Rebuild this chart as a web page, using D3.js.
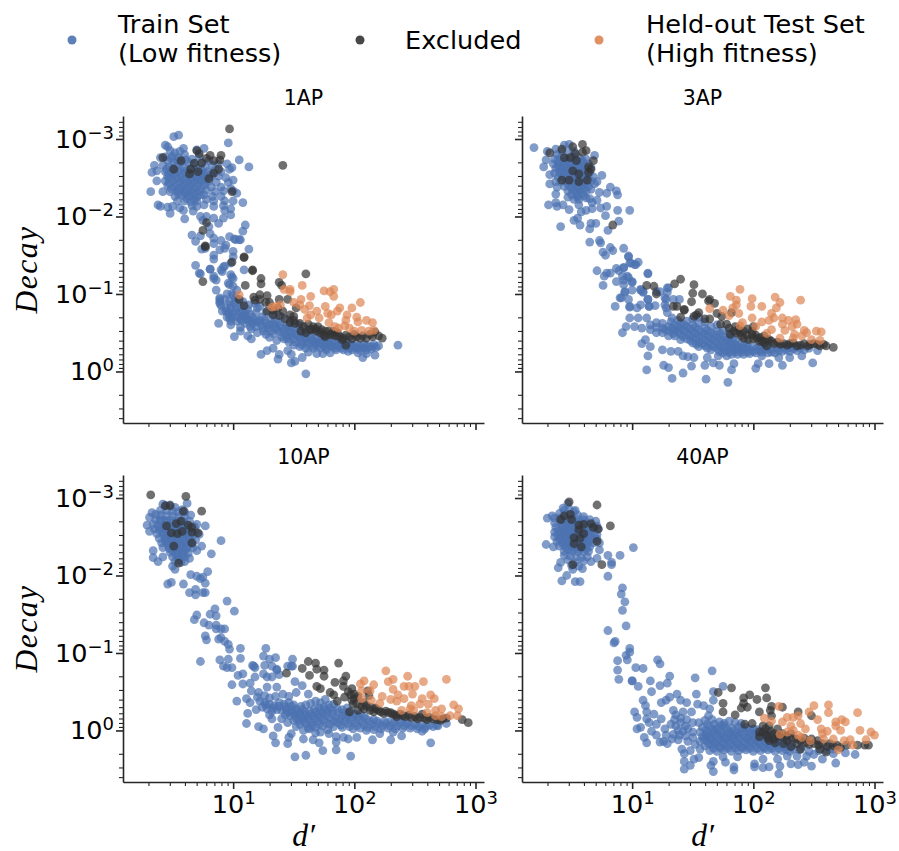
<!DOCTYPE html>
<meta charset="utf-8">

<script src="https://d3js.org/d3.v7.min.js"></script>

<style>
  body { margin: 0; background: #fff; }
  text { font-family: "DejaVu Sans", sans-serif; fill: #000; }
  .domain { stroke: #262626; stroke-width: 1.6px; }
  .major line { stroke: #262626; stroke-width: 1.6px; }
  .minor line { stroke: #262626; stroke-width: 1.1px; }
  .math { font-family: "Liberation Serif", serif; font-style: italic; }
</style>

<svg></svg>

<script>

// DATA: every point is [log10(d'), log10(decay)]

var train1AP = [[.51,-3.03],[.55,-3.05],[.44,-2.92],[.46,-2.9],[.96,-2.95],[.76,-2.88],[.59,-2.88],[.7,-2.86],[1.05,-2.73],[1.13,-2.64],[.99,-2.63],[.95,-2.68],[.97,-2.61],[.33,-2.57],[.37,-2.59],[.35,-2.66],[.4,-2.76],[.44,-2.77],[.37,-2.46],[.32,-2.32],[.42,-2.32],[.38,-2.15],[.4,-2.13],[.46,-2.12],[.5,-2.13],[.48,-2.04],[.56,-2.11],[.59,-2.08],[.6,-1.97],[.67,-2.07],
[.48,-2.85],[.52,-2.82],[.56,-2.84],[.5,-2.78],[.55,-2.76],[.6,-2.8],[.66,-2.74],[.72,-2.78],[.46,-2.72],[.51,-2.7],[.57,-2.7],[.63,-2.7],[.68,-2.68],[.74,-2.7],[.8,-2.72],[.42,-2.66],[.47,-2.64],[.53,-2.65],[.59,-2.63],[.65,-2.62],[.71,-2.62],[.77,-2.64],[.83,-2.66],[.88,-2.68],[.44,-2.58],[.49,-2.58],[.55,-2.58],[.61,-2.56],[.67,-2.56],[.73,-2.56],[.79,-2.58],[.85,-2.6],[.9,-2.58],[.46,-2.52],[.52,-2.52],[.58,-2.5],[.64,-2.5],[.7,-2.5],[.76,-2.52],[.82,-2.52],[.88,-2.52],[.94,-2.5],[.44,-2.46],[.5,-2.46],[.56,-2.44],[.62,-2.44],[.68,-2.44],[.74,-2.46],[.8,-2.46],[.86,-2.44],[.96,-2.44],[1,-2.47],[.46,-2.4],[.52,-2.38],[.58,-2.38],[.64,-2.38],[.7,-2.38],[.76,-2.4],[.82,-2.38],[.9,-2.38],[.98,-2.36],[.48,-2.32],[.54,-2.32],[.6,-2.32],[.66,-2.32],[.72,-2.32],[.78,-2.34],[.85,-2.32],[.92,-2.33],[1,-2.33],[.52,-2.26],[.58,-2.27],[.64,-2.26],[.7,-2.25],[.76,-2.28],[.83,-2.26],[.9,-2.26],[1.03,-2.3],[.54,-2.2],[.6,-2.2],[.65,-2.19],[.7,-2.2],[.78,-2.22],[.84,-2.2],[.93,-2.2],[1,-2.2],[1.08,-2.18],[.66,-2.14],[.7,-2.13],[.76,-2.15],[.84,-2.13],[.92,-2.14],[.98,-2.1],
[.73,-2],[.78,-2],[.84,-1.98],[.75,-1.95],[.8,-1.87],[.88,-1.91],[.92,-1.98],[.98,-2.02],[.93,-2.08],[1.1,-1.89],[1.08,-1.81],[.66,-1.76],[.73,-1.75],[.69,-1.68],[.81,-1.78],[.84,-1.72],[.84,-1.65],[.9,-1.69],[.97,-1.74],[1.02,-1.7],[1.06,-1.7],[1.13,-1.58],[.94,-1.63],[.89,-1.57],[.93,-1.59],[1,-1.55],[.74,-1.58],[.77,-1.59],[.84,-1.5],[.84,-1.45],[1,-1.48],[.98,-1.4],[.69,-1.37],[.92,-1.35],[.91,-1.29],[.73,-1.26],[.81,-1.32],[.84,-1.23],[1.09,-1.31],[.86,-1.18],[.86,-1.05],[.89,-.93],[.99,-1.22],[.96,-1.14],
[.98,-1.25],[1,-1.2],[.97,-1.12],[1,-1.1],[1.03,-1.05],[.95,-1],[.99,-1],[1.02,-.95],[.93,-.93],[.97,-.9],[1.01,-.88],[.89,-.9],[.9,-.85],[.94,-.82],[.98,-.82],[1.03,-.82],[.91,-.78],[.96,-.76],[1,-.75],[1.05,-.76],[.95,-.7],[.99,-.7],[1.04,-.7],[1.08,-.72],[.98,-.65],[1.03,-.65],[1.07,-.66],[1.11,-.68],
[1.08,-.78],[1.12,-.8],[1.1,-.72],[1.14,-.74],[1.12,-.66],[1.16,-.7],[1.19,-.76],[1.2,-.82],[1.16,-.62],[1.2,-.64],[1.24,-.7],[1.27,-.76],[1.23,-.6],[1.27,-.62],[1.31,-.68],[1.34,-.74],[1.29,-.56],[1.33,-.6],[1.37,-.64],[1.4,-.7],[1.36,-.54],[1.4,-.56],[1.44,-.6],[1.47,-.66],[1.42,-.5],[1.46,-.52],[1.5,-.56],[1.54,-.6],[1.48,-.46],[1.52,-.48],[1.56,-.5],[1.6,-.54],[1.55,-.43],[1.59,-.44],[1.63,-.46],[1.67,-.5],[1.61,-.38],[1.65,-.4],[1.69,-.42],[1.73,-.46],[1.68,-.36],[1.72,-.37],[1.76,-.4],[1.8,-.43],[1.75,-.33],[1.79,-.35],[1.83,-.37],[1.87,-.42],[1.82,-.32],[1.86,-.33],[1.9,-.36],[1.94,-.38],[1.89,-.3],[1.93,-.32],[1.97,-.34],[2.01,-.36],[1.96,-.3],[2,-.31],[2.04,-.33],[2.08,-.35],[2.04,-.28],[2.08,-.3],[2.12,-.32],[2.16,-.35],[2.14,-.29],[2.18,-.31],[2.2,-.33],
[1.08,-.9],[1.13,-.86],[1.18,-.88],[1.22,-.84],[1.15,-.55],[1.2,-.5],[1.27,-.48],[1.3,-.44],[1.36,-.4],[1.42,-.42],[1.46,-.38],[1.5,-.34],[1.55,-.32],[1.6,-.3],[1.62,-.25],[1.66,-.3],[1.72,-.3],[1.77,-.28],[1.85,-.28],[1.95,-.26],[2.03,-.24],
[.88,-.62],[.98,-.6],[1.01,-.45],[1.06,-.57],[1.06,-.52],[1.12,-.46],[1.15,-.42],[1.23,-.22],[1.28,-.27],[1.33,-.3],[1.37,-.16],[1.38,-.22],[1.48,-.11],[1.51,-.13],[1.6,.03],[1.57,-.18],[1.45,-.27],[1.48,-.22],[1.69,-.23],[1.74,-.23],[1.8,-.24],[2.07,-.18],[2.1,-.23],[2.17,-.21],[2.36,-.34],
[.72,-1.27],[.84,-1.2],[.81,-1.32],[.9,-1.31],[.93,-1.36],[1.01,-1.71],[1.05,-1.7],[.89,-.95],[.89,-.88],[.94,-.78],[.97,-.69]];

var core1AP = [[.49,-2.75],[.55,-2.72],[.61,-2.73],[.45,-2.61],[.5,-2.62],[.56,-2.61],[.62,-2.6],[.68,-2.6],[.74,-2.6],[.47,-2.55],[.52,-2.55],[.58,-2.54],[.64,-2.53],[.7,-2.53],[.76,-2.55],[.82,-2.55],[.47,-2.49],[.53,-2.49],[.59,-2.47],[.65,-2.47],[.71,-2.47],[.77,-2.49],[.47,-2.43],[.53,-2.42],[.59,-2.41],[.65,-2.41],[.71,-2.42],[.77,-2.43],[.49,-2.36],[.55,-2.35],[.61,-2.35],[.67,-2.35],[.73,-2.35],[.55,-2.29],[.61,-2.29],[.67,-2.29],[.73,-2.28],[.62,-2.23],[.68,-2.22],
[1,-.98],[1.03,-.92],[.98,-.86],[1.02,-.78],[.97,-.74],[1.06,-.84],[1.1,-.76],[1.06,-.68],[1.1,-.62],[1.14,-.66],[1.18,-.66],[1.14,-.58],[1.19,-.58],[1.22,-.66],[1.26,-.66],[1.25,-.56],[1.3,-.6],[1.34,-.64],[1.31,-.52],[1.35,-.57],[1.39,-.6],[1.38,-.51],[1.43,-.55],[1.46,-.58],[1.44,-.46],[1.48,-.5],[1.52,-.53],[1.5,-.42],[1.54,-.46],[1.58,-.48],[1.56,-.38],[1.6,-.41],[1.64,-.43],[1.62,-.35],[1.67,-.38],[1.71,-.4],[1.7,-.33],[1.74,-.36],[1.78,-.38],[1.77,-.31],[1.81,-.34],[1.85,-.36],[1.84,-.3],[1.88,-.33],[1.92,-.34],[1.91,-.28],[1.95,-.32],[1.99,-.33],[1.98,-.28],[2.02,-.3],[2.06,-.31],[2.1,-.33],[2.1,-.28],[2.15,-.32],[1.4,-.45],[1.33,-.49],[1.25,-.52],[1.45,-.42],[1.52,-.38],[1.57,-.34],[1.66,-.33]];

var excl1AP = [[.97,-3.13],[1.41,-2.66],[.42,-2.76],[.57,-2.72],[.51,-2.61],[.7,-2.85],[.72,-2.81],[.81,-2.79],[.9,-2.79],[.89,-2.73],[.84,-2.72],[.78,-2.75],[.68,-2.69],[.74,-2.69],[.65,-2.61],[.71,-2.58],[.64,-2.55],[.84,-2.56],[.88,-2.61],[.8,-2.49],[.99,-2.32],[.78,-1.92],[.75,-1.82],[.77,-1.61],[.99,-1.41],[1.09,-1.47],[1.16,-1.3],[.75,-1.16],
[1.6,-1.26],[1.23,-1.2],[1.23,-1.13],[1.16,-1.31],[1.09,-1.48],[.77,-1.62],[1.1,-1.11],[1.38,-1.15],[1.4,-1.11],[1.17,-.96],[1.22,-.99],[1.28,-.98],[1.18,-.92],[1.22,-.93],[1.3,-.89],[1.38,-.93],[1.45,-.93],[1.27,-.89],[1.09,-.85],[1.05,-.93],[1.28,-.78],[1.33,-.73],[1.37,-.82],[1.41,-.78],[1.47,-.73],[1.5,-.71],[1.52,-.82],[1.47,-.63],[1.51,-.62],[1.56,-.52],[1.62,-.61],[1.66,-.58],[1.7,-.58],[1.73,-.54],[1.63,-.54],[1.69,-.52],[1.8,-.48],[1.85,-.46],[1.83,-.52],[1.91,-.43],[1.96,-.45],[2.02,-.45],[2.07,-.46],[2.13,-.48],[2.17,-.51],[2.2,-.46],[2.23,-.43],[1.93,-.34],
[1.5,-.66],[1.55,-.62],[1.58,-.58],[1.6,-.5],[1.65,-.54],[1.68,-.55],[1.72,-.5],[1.76,-.52],[1.75,-.47],[1.79,-.52],[1.82,-.47],[1.86,-.5],[1.88,-.45],[1.93,-.47],[1.98,-.42],[2,-.48],[2.05,-.43],[2.1,-.43],[2.15,-.45],[1.43,-.68],[1.38,-.72],[1.33,-.79],[1.9,-.41],[1.76,-.45]];

var held1AP = [[1.41,-1.25],[1.57,-1.11],[1.42,-1.06],[1.47,-1.06],[1.47,-1.03],[1.64,-.97],[1.75,-1.04],[1.83,-1.06],[1.8,-1.03],[1.83,-.97],[1.05,-.99],[2.05,-.89],[1.56,-.93],[1.5,-.89],[1.55,-.86],[1.63,-.85],[1.32,-.83],[1.35,-.84],[1.39,-.86],[1.59,-.8],[1.69,-.78],[1.76,-.84],[1.88,-.82],[1.86,-.78],[1.98,-.82],[1.78,-.75],[1.81,-.73],[1.61,-.69],[1.64,-.73],[1.71,-.69],[1.94,-.73],[2.02,-.7],[1.93,-.66],[2.03,-.64],[2.1,-.66],[2.15,-.63],[1.79,-.63],[1.84,-.58],[1.87,-.56],[1.92,-.59],[1.96,-.56],[2,-.52],[2.06,-.53],[2.12,-.52],[2.16,-.53]];

var train3AP = [[.19,-2.89],[.3,-2.84],[.29,-2.73],[.27,-2.64],[.37,-2.87],[.44,-2.92],[.48,-2.93],[.69,-2.79],[.32,-2.54],[.32,-2.42],[.37,-2.45],[.38,-2.38],[.37,-2.29],[.37,-2.18],[.31,-2.15],[.38,-2.13],[.43,-2.15],[.48,-2.09],[.56,-2.15],[.58,-2.06],[.62,-2.08],[.67,-2.1],[.74,-2.11],[.79,-2.13],[.88,-2.08],[.98,-2.08],[.78,-2.01],[.89,-1.94],[.55,-1.98],[.52,-1.95],[.41,-1.87],[.57,-1.89],[.66,-1.91],[.7,-1.91],[.65,-1.84],[.8,-1.82],[.75,-2.53],[.71,-2.45],[.82,-2.38],[.87,-2.33],[.88,-2.28],[.73,-2.31],[.79,-2.3],[.71,-2.21],[.67,-2.18],
[.38,-2.8],[.42,-2.84],[.47,-2.82],[.52,-2.84],[.36,-2.74],[.41,-2.76],[.46,-2.75],[.51,-2.77],[.56,-2.76],[.62,-2.74],[.35,-2.68],[.39,-2.69],[.44,-2.69],[.49,-2.7],[.54,-2.7],[.59,-2.7],[.64,-2.68],[.37,-2.62],[.41,-2.63],[.46,-2.63],[.51,-2.64],[.56,-2.64],[.61,-2.63],[.66,-2.63],[.36,-2.56],[.4,-2.57],[.45,-2.57],[.5,-2.58],[.55,-2.58],[.6,-2.57],[.65,-2.57],[.39,-2.51],[.43,-2.51],[.48,-2.52],[.53,-2.52],[.58,-2.52],[.63,-2.51],[.68,-2.51],[.41,-2.45],[.46,-2.45],[.51,-2.46],[.56,-2.46],[.61,-2.45],[.66,-2.46],[.44,-2.39],[.49,-2.39],[.54,-2.4],[.59,-2.4],[.64,-2.39],[.69,-2.42],[.47,-2.33],[.52,-2.33],[.57,-2.34],[.62,-2.33],[.66,-2.35],[.5,-2.28],[.55,-2.27],[.6,-2.27],[.47,-2.25],[.52,-2.22],[.56,-2.22],[.62,-2.24],[.65,-2.23],
[.65,-1.67],[.73,-1.69],[.74,-1.66],[.82,-1.6],[.84,-1.56],[.93,-1.59],[.76,-1.54],[.78,-1.5],[.97,-1.48],[.99,-1.4],[1.03,-1.38],[1.05,-1.41],[.71,-1.3],[.79,-1.27],[.82,-1.27],[.87,-1.33],[.93,-1.34],[.89,-1.3],[1.13,-1.26],[.77,-1.23],[.92,-1.23],[.97,-1.21],[.76,-1.11],[.87,-1.16],[.93,-1.12],[1,-1.15],[.94,-1.02],[1,-1.05],[.9,-.95],[.97,-.93],[.86,-.84],[1.07,-1.05],[1.09,-1.02],[1.13,-.93],[1.3,-1.08],[1.28,-.93],[1.34,-.93],[1.39,-.93],[1.07,-.86],[.98,-.84],[1.28,-.82],[1.04,-.82],[1.14,-.84],[1.29,-1.02],[1.2,-1.03],
[.97,-1.49],[1.02,-1.38],[1.13,-1.27],[.98,-1.4],[.93,-1.34],[.96,-1.23],[1,-1.16],[.93,-1.18],[.94,-1.03],[.98,-.83],[.91,-.95],[1.29,-1.08],[1.07,-1.06],[1.09,-1.03],[1.23,-1.03],[1.27,-.95],[1.13,-.93],[1.19,-.85],[1.14,-.84],[1.27,-.86],[1.29,-.76],[.98,-.69],[1.05,-.69],[1.12,-.69],[1.2,-.63],[1.33,-.69],[.95,-.58],[1.02,-.58],[.92,-.5],[1.08,-.56],[1.15,-.54],
[1.11,-.41],[1.08,-.36],[1.15,-.32],[1.13,-.2],[1.25,-.28],[1.32,-.26],[1.38,-.26],[1.42,-.2],[1.46,-.19],[1.51,-.18],[1.26,-.08],[1.3,-.05],[1.12,-.02],[1.33,.09],[1.42,.02],[1.49,-.07],[1.6,-.08],[1.67,-.11],[1.72,-.08],[1.84,-.1],[1.82,-.02],[1.61,.1],[1.79,.14],[2.02,-.04],[2.04,-.1],[2.13,-.1],[2.24,-.08],[2.49,-.11],[1.62,-.18],[1.71,-.2],[1.78,-.2],[2.07,-.2],[2.21,-.18],[2.3,-.18],[2.4,-.2],[2.53,-.27],
[1.15,-.6],[1.2,-.57],[1.25,-.56],[1.3,-.58],[1.35,-.6],[1.4,-.62],[1.45,-.65],[1.5,-.68],[1.55,-.7],[1.2,-.5],[1.25,-.5],[1.3,-.52],[1.35,-.53],[1.4,-.55],[1.45,-.58],[1.5,-.6],[1.55,-.62],[1.6,-.64],[1.3,-.46],[1.35,-.46],[1.4,-.48],[1.45,-.5],[1.5,-.52],[1.55,-.54],[1.6,-.56],[1.65,-.58],[1.7,-.6],[1.4,-.41],[1.45,-.42],[1.5,-.44],[1.55,-.46],[1.6,-.48],[1.65,-.5],[1.7,-.52],[1.75,-.53],[1.8,-.5],[1.5,-.37],[1.55,-.38],[1.6,-.4],[1.65,-.42],[1.7,-.44],[1.75,-.45],[1.8,-.44],[1.85,-.4],[1.55,-.32],[1.6,-.33],[1.65,-.35],[1.7,-.37],[1.75,-.38],[1.8,-.38],[1.85,-.35],[1.9,-.36],[1.95,-.35],[1.65,-.28],[1.7,-.3],[1.75,-.3],[1.8,-.31],[1.85,-.3],[1.9,-.3],[1.95,-.3],[2,-.32],[2.05,-.32],[2.1,-.33],[1.75,-.24],[1.8,-.25],[1.85,-.25],[1.9,-.25],[1.95,-.25],[2,-.26],[2.05,-.27],[2.1,-.28],[2.15,-.29],[2.2,-.3],[2.25,-.31],[2.3,-.31],[2.35,-.32],[2.12,-.24],[2.18,-.24],[2.24,-.26],[2.3,-.26],[2.36,-.27],[2.42,-.28],[2.46,-.3]];

var core3AP = [[.39,-2.72],[.44,-2.72],[.49,-2.73],[.54,-2.73],[.59,-2.72],[.39,-2.65],[.44,-2.66],[.49,-2.66],[.54,-2.67],[.59,-2.66],[.42,-2.6],[.47,-2.6],[.52,-2.61],[.57,-2.6],[.62,-2.6],[.42,-2.54],[.47,-2.54],[.52,-2.55],[.57,-2.55],[.62,-2.54],[.46,-2.48],[.51,-2.49],[.56,-2.49],[.61,-2.48],[.47,-2.42],[.52,-2.43],[.57,-2.43],[.62,-2.42],[.5,-2.36],[.55,-2.37],[.6,-2.36],[.54,-2.31],[.59,-2.3],[.55,-2.25],
[1.25,-.62],[1.32,-.64],[1.38,-.66],[1.27,-.54],[1.33,-.56],[1.38,-.58],[1.43,-.6],[1.34,-.49],[1.38,-.51],[1.43,-.53],[1.48,-.55],[1.52,-.57],[1.42,-.45],[1.47,-.47],[1.52,-.49],[1.57,-.51],[1.62,-.53],[1.48,-.4],[1.53,-.42],[1.58,-.44],[1.63,-.46],[1.68,-.48],[1.73,-.49],[1.53,-.35],[1.58,-.36],[1.63,-.38],[1.68,-.4],[1.73,-.41],[1.78,-.41],[1.83,-.42],[1.62,-.3],[1.67,-.32],[1.72,-.33],[1.77,-.35],[1.82,-.34],[1.87,-.33],[1.92,-.33],[1.72,-.26],[1.77,-.27],[1.82,-.28],[1.87,-.28],[1.92,-.28],[1.97,-.28],[2.02,-.29],[2.07,-.3],[2.12,-.3],[1.82,-.22],[1.87,-.22],[1.92,-.22],[1.97,-.23],[2.02,-.24],[2.07,-.25],[2.15,-.25],[2.21,-.27],[2.27,-.28],[2.33,-.29],[2.39,-.3]];

var excl3AP = [[.59,-2.93],[.51,-2.9],[.42,-2.87],[.32,-2.82],[.62,-2.85],[.59,-2.83],[.53,-2.81],[.44,-2.76],[.49,-2.76],[.54,-2.72],[.68,-2.72],[.64,-2.64],[.66,-2.61],[.51,-2.59],[.64,-2.57],[.56,-2.55],[.42,-2.47],[.48,-2.47],[.56,-2.45],[.63,-2.47],[.84,-1.89],[1.4,-1.19],[1.35,-1.13],[1.12,-1.11],[1.18,-1.1],[1.2,-1],[1.51,-1.12],[1.5,-1.01],[1.58,-1],[1.49,-.9],[1.64,-.93],[1.63,-.91],[1.68,-.88],[1.34,-.84],[1.37,-.84],[1.43,-.8],
[1.43,-.79],[1.4,-.7],[1.51,-.71],[1.55,-.76],[1.53,-.73],[1.6,-.68],[1.64,-.68],[1.7,-.75],[1.74,-.71],[1.73,-.61],[1.78,-.61],[1.82,-.76],[1.85,-.58],[1.81,-.48],[1.89,-.5],[1.92,-.43],[2,-.58],[1.99,-.48],[2.03,-.43],[2.07,-.39],[2.11,-.33],[2.15,-.39],[2.22,-.35],[2.3,-.36],[2.39,-.34],[2.47,-.35],[2.53,-.35],[2.58,-.35],[2.66,-.31],[1.86,-.5],[1.96,-.41],[2.11,-.41],
[1.8,-.56],[1.84,-.52],[1.88,-.55],[1.92,-.52],[1.95,-.55],[1.9,-.46],[1.95,-.47],[1.99,-.52],[2.02,-.47],[2.06,-.44],[2.09,-.46],[2,-.42],[2.05,-.39],[2.09,-.37],[2.13,-.41],[2.17,-.36],[2.2,-.38],[2.25,-.36],[2.28,-.34],[2.33,-.37],[2.36,-.33],[2.42,-.36],[2.45,-.33],[2.5,-.36],[2.55,-.33],[2.6,-.33]];

var held3AP = [[1.89,-1.06],[1.81,-.97],[1.86,-.92],[1.86,-.86],[1.99,-.94],[1.98,-.84],[2.07,-.84],[2.18,-.96],[2.22,-.89],[2.19,-.82],[2.39,-.92],[1.64,-.81],[1.75,-.79],[1.83,-.82],[1.88,-.75],[1.8,-.72],[2.15,-.75],[2.17,-.69],[1.99,-.69],[2.07,-.64],[2.13,-.66],[2.24,-.69],[2.29,-.66],[2.35,-.67],[1.91,-.63],[2.02,-.58],[2.24,-.61],[2.36,-.61],[2.32,-.58],[2.26,-.53],[2.42,-.53],[2.52,-.52],[2.56,-.51],[2.44,-.5],[2.15,-.54],[2.11,-.49],[2.22,-.43],[2.33,-.43],[2.4,-.46],[2.48,-.41],[2.55,-.4],[2.34,-.48],[1.89,-.59]];

var train10AP = [[.9,-2.45],[.82,-2.28],[.77,-2.64],[.7,-2.66],[.62,-2.93],[.42,-2.92],[.33,-2.81],[.31,-2.75],[.29,-2.65],[.31,-2.57],[.34,-2.32],[.34,-2.23],[.38,-2.18],[.42,-2.24],[.5,-2.12],[.52,-2.08],[.74,-2.38],[.7,-2.32],[.79,-2.05],[.65,-2.01],[.7,-1.99],[.73,-1.96],[.75,-1.98],[.77,-1.9],[.46,-1.89],[.49,-1.91],[.59,-1.89],[.64,-1.78],[.69,-1.82],[.69,-1.75],[.75,-1.78],[.77,-1.78],[.95,-1.67],[1.01,-1.54],[.85,-1.57],[.81,-1.5],[.7,-1.49],[.68,-1.43],[.86,-1.48],[.76,-1.39],[.8,-1.36],[.86,-1.36],[.86,-1.31],[.9,-1.31],[.93,-1.31],[.77,-1.22],[.78,-1.17],[.88,-1.18],[.9,-1.2],[.93,-1.15],[.96,-1.11],[.97,-1.05],[1.06,-1.06],[1.27,-1.06],[1.25,-.96],[1.06,-.93],[.96,-.92],[.89,-.91],[.73,-.89],[1.3,-.92],[1.35,-.94],[1.49,-.92],[.92,-.83],[.95,-.81],[1.17,-.83],[1.26,-.84],[1.45,-.83],[1.49,-.83],[1.36,-.79],
[.44,-2.9],[.48,-2.91],[.52,-2.88],[.58,-2.85],[.4,-2.84],[.45,-2.84],[.5,-2.83],[.55,-2.82],[.6,-2.82],[.36,-2.79],[.4,-2.78],[.45,-2.77],[.5,-2.77],[.55,-2.76],[.6,-2.76],[.65,-2.78],[.36,-2.72],[.4,-2.72],[.44,-2.71],[.49,-2.71],[.54,-2.7],[.59,-2.7],[.64,-2.7],[.34,-2.66],[.38,-2.65],[.43,-2.65],[.48,-2.65],[.53,-2.65],[.58,-2.64],[.63,-2.64],[.68,-2.63],[.35,-2.6],[.39,-2.59],[.44,-2.59],[.49,-2.59],[.54,-2.59],[.59,-2.58],[.64,-2.58],[.69,-2.57],[.37,-2.54],[.42,-2.53],[.47,-2.53],[.52,-2.53],[.57,-2.53],[.62,-2.53],[.67,-2.52],[.72,-2.53],[.39,-2.48],[.44,-2.47],[.49,-2.47],[.54,-2.47],[.59,-2.47],[.64,-2.47],[.69,-2.46],[.41,-2.42],[.46,-2.41],[.51,-2.41],[.56,-2.41],[.61,-2.41],[.66,-2.41],[.42,-2.36],[.47,-2.35],[.52,-2.35],[.57,-2.35],[.62,-2.35],[.67,-2.36],[.48,-2.3],[.53,-2.29],[.58,-2.29],[.63,-2.29],[.5,-2.24],[.55,-2.23],[.6,-2.24],[.64,-2.22],[.52,-2.18],[.57,-2.17],[.6,-2.18],
[1.16,-.84],[1.18,-.81],[1.32,-.83],[1.48,-.83],[1.36,-.78],[1.38,-.72],[.99,-.81],[1.08,-.73],[1.04,-.71],[1.18,-.69],[1.25,-.73],[1.28,-.69],[1.32,-.69],[1.51,-.63],[1.08,-.6],[1.14,-.61],[.99,-.59],[1.28,-.56],[1.36,-.56],[1.57,-.58],[1.15,-.51],[1.21,-.49],[1.11,-.41],[1.03,-.38],[1.41,-.47],[1.46,-.44],[1.52,-.49],[1.62,-.47],[1.14,-.36],[1.19,-.27],[1.12,-.22],[1.11,-.09],[1.21,-.05],[1.25,-.02],[1.32,-.15],[1.37,-.04],[1.33,.07],[1.35,.16],[1.45,.17],[1.46,.09],[1.48,.04],[1.58,.11],[1.66,.12],[1.71,.16],[1.74,.26],[1.85,.25],[1.85,.15],[1.51,.34],[1.6,.32],[1.97,.33],[1.91,.09],[1.85,.08],[1.95,.11],[2.02,.09],[2.15,.12],[2.3,.12],[2.39,.07],[2.63,.16],[2.56,.01],[2.76,-.09],[2.69,-.06],[1.72,.02],[1.79,.04],[1.63,-.02],[2.21,.04],[2.32,.02],
[1.22,-.38],[1.26,-.36],[1.3,-.34],[1.34,-.32],[1.38,-.36],[1.42,-.34],[1.46,-.36],[1.5,-.33],[1.24,-.3],[1.28,-.28],[1.32,-.25],[1.36,-.27],[1.4,-.26],[1.44,-.27],[1.48,-.26],[1.52,-.28],[1.56,-.31],[1.6,-.33],[1.64,-.35],[1.68,-.38],[1.72,-.36],[1.76,-.4],[1.43,-.2],[1.47,-.19],[1.51,-.2],[1.55,-.22],[1.59,-.24],[1.63,-.25],[1.67,-.28],[1.71,-.29],[1.75,-.3],[1.79,-.33],[1.83,-.34],[1.5,-.13],[1.54,-.14],[1.58,-.15],[1.62,-.17],[1.66,-.19],[1.7,-.2],[1.74,-.22],[1.78,-.24],[1.82,-.26],[1.86,-.28],[1.9,-.27],[1.94,-.29],[1.55,-.08],[1.6,-.09],[1.65,-.1],[1.7,-.12],[1.75,-.14],[1.8,-.16],[1.85,-.17],[1.9,-.19],[1.95,-.2],[2,-.21],[2.05,-.21],[1.62,-.03],[1.68,-.04],[1.74,-.06],[1.8,-.08],[1.86,-.1],[1.92,-.12],[1.98,-.13],[2.04,-.14],[2.1,-.15],[2.16,-.14],[1.9,-.04],[1.96,-.05],[2.02,-.06],[2.08,-.07],[2.14,-.08],[2.2,-.09],[2.26,-.09],[2.32,-.09],[2.38,-.1],[2.44,-.09],[2.5,-.08],[2.56,-.08],[2.62,-.07],[2.68,-.07],[2.1,0],[2.16,-.01],[2.22,-.02],[2.28,-.03],[2.34,-.02],[2.4,-.03],[2.46,-.03],[2.52,-.02],[2.58,-.02],[1.3,-.42],[1.35,-.44],[1.2,-.43],[1.26,-.45]];

var core10AP = [[.4,-2.7],[.45,-2.7],[.5,-2.68],[.55,-2.68],[.6,-2.67],[.4,-2.62],[.45,-2.62],[.5,-2.62],[.55,-2.62],[.6,-2.61],[.42,-2.56],[.47,-2.56],[.52,-2.56],[.57,-2.56],[.62,-2.55],[.44,-2.5],[.49,-2.5],[.54,-2.5],[.59,-2.5],[.64,-2.5],[.44,-2.44],[.49,-2.44],[.54,-2.44],[.59,-2.44],[.64,-2.44],[.47,-2.38],[.52,-2.38],[.57,-2.38],[.62,-2.38],[.5,-2.32],[.55,-2.32],[.6,-2.32],[.53,-2.26],[.58,-2.26],[.55,-2.2],
[1.27,-.33],[1.33,-.29],[1.38,-.31],[1.43,-.3],[1.48,-.31],[1.53,-.24],[1.57,-.27],[1.45,-.23],[1.49,-.23],[1.52,-.16],[1.56,-.18],[1.6,-.2],[1.64,-.21],[1.68,-.24],[1.72,-.25],[1.76,-.27],[1.8,-.29],[1.58,-.11],[1.63,-.13],[1.68,-.15],[1.72,-.17],[1.77,-.19],[1.82,-.21],[1.87,-.23],[1.92,-.23],[1.97,-.25],[1.65,-.06],[1.71,-.08],[1.77,-.1],[1.83,-.12],[1.88,-.14],[1.93,-.16],[1.98,-.17],[2.03,-.18],[2.08,-.18],[1.83,-.05],[1.89,-.07],[1.95,-.09],[2.01,-.1],[2.07,-.11],[2.13,-.12],[2.19,-.12],[2.25,-.12],[2.31,-.13],[2.37,-.13],[2.43,-.13],[1.99,-.02],[2.05,-.03],[2.11,-.04],[2.17,-.05],[2.23,-.06],[2.29,-.06],[2.35,-.06],[2.41,-.06],[2.47,-.06],[2.53,-.05],[2.59,-.05],[2.65,-.05],[1.4,-.15],[1.45,-.1],[1.52,-.05],[1.58,0],[1.68,.03],[1.78,-.01],[1.3,-.2]];

var excl10AP = [[.32,-3.04],[.61,-3.02],[.74,-2.83],[.44,-2.9],[.48,-2.9],[.59,-2.83],[.45,-2.64],[.53,-2.67],[.57,-2.7],[.63,-2.65],[.66,-2.62],[.66,-2.56],[.71,-2.55],[.49,-2.55],[.54,-2.54],[.58,-2.57],[.66,-2.42],[.51,-2.38],[.55,-2.16],
[1.62,-.89],[1.68,-.87],[1.69,-.79],[1.75,-.78],[1.75,-.7],[1.57,-.8],[1.44,-.74],[1.63,-.71],[1.87,-.87],[1.93,-.7],[1.91,-.64],[1.91,-.57],[1.84,-.62],[1.69,-.57],[1.72,-.54],[1.8,-.49],[1.83,-.46],[1.86,-.38],[1.92,-.43],[1.98,-.54],[1.97,-.46],[2,-.41],[1.96,-.24],[2.03,-.26],[2.08,-.28],[2.13,-.3],[2.16,-.24],[2.2,-.26],[2.24,-.22],[2.28,-.23],[2.32,-.21],[2.4,-.19],[2.47,-.17],[2.56,-.21],[2.6,-.14],[2.65,-.15],[2.71,-.13],[2.76,-.16],[2.89,-.14],[2.94,-.1],[2.11,-.51],[2.12,-.45],[1.99,-.34],[2.35,-.18],[2.52,-.15],
[1.95,-.5],[2,-.47],[2.03,-.44],[1.98,-.39],[2.02,-.35],[2.06,-.31],[2.08,-.36],[2.1,-.32],[2.13,-.26],[2.18,-.28],[2.22,-.24],[2.26,-.25],[2.3,-.23],[2.34,-.2],[2.38,-.21],[2.42,-.18],[2.45,-.2],[2.5,-.18],[2.54,-.17],[2.58,-.16],[2.62,-.17],[2.68,-.14],[2.73,-.15],[2.17,-.29]];

var held10AP = [[2.26,-.77],[2.44,-.7],[2.76,-.66],[2.08,-.64],[2.05,-.6],[2.16,-.59],[2.28,-.63],[2.32,-.66],[2.57,-.63],[2.32,-.53],[2.41,-.57],[2.45,-.57],[2.5,-.57],[2.36,-.46],[2.48,-.47],[2.56,-.41],[2.63,-.46],[2.66,-.41],[2.61,-.34],[2.23,-.44],[2.3,-.4],[2.35,-.38],[2.41,-.41],[2.47,-.32],[2.54,-.34],[2.82,-.33],[2.86,-.28],[2.72,-.28],[2.67,-.26],[2.6,-.23],[2.85,-.19],[2.79,-.19],[2.14,-.39],[2.21,-.35],[2.06,-.51],[2.13,-.51],[2.06,-.41],[2.39,-.26],[2.46,-.28],[2.49,-.26],[2.67,-.19],[2.72,-.18]];

var train40AP = [[.29,-2.4],[.3,-2.74],[.34,-2.77],[.35,-2.37],[.43,-2.87],[.47,-2.93],[.53,-2.84],[.39,-2.1],[.41,-2.17],[.44,-2.26],[.42,-1.93],[.46,-2],[.53,-1.92],[.57,-1.92],[.51,-2.08],[.59,-2.09],[.66,-2.18],[.71,-2.22],[.8,-2.26],[.9,-2.26],[1.01,-2.36],[.83,-2.17],[.83,-2.14],[.8,-1.99],[.92,-1.84],[.91,-1.76],[.94,-1.66],[.92,-1.55],[.95,-1.35],[.8,-1.29],[.86,-1.15],[.85,-1.13],[.98,-1.06],[.98,-1.01],[.95,-.97],[.96,-.91],[.88,-.9],[.88,-.78],[1.03,-.81],[1.09,-.8],[1.21,-.91],[1.23,-.86],[1.31,-.7],[1.52,-.68],[.89,-.66],[1,-.64],[1.15,-.64],[.73,-2.33],
[.44,-2.84],[.48,-2.86],[.52,-2.82],[.4,-2.8],[.45,-2.79],[.5,-2.78],[.55,-2.78],[.6,-2.76],[.36,-2.74],[.4,-2.74],[.45,-2.73],[.5,-2.73],[.55,-2.72],[.6,-2.72],[.65,-2.72],[.7,-2.7],[.36,-2.68],[.41,-2.68],[.46,-2.67],[.51,-2.67],[.56,-2.66],[.61,-2.66],[.66,-2.65],[.71,-2.64],[.37,-2.62],[.42,-2.61],[.47,-2.61],[.52,-2.61],[.57,-2.6],[.62,-2.6],[.67,-2.6],[.72,-2.6],[.36,-2.56],[.41,-2.55],[.46,-2.55],[.51,-2.55],[.56,-2.55],[.61,-2.54],[.66,-2.54],[.71,-2.53],[.36,-2.5],[.41,-2.49],[.46,-2.49],[.51,-2.49],[.56,-2.49],[.61,-2.48],[.66,-2.48],[.71,-2.47],[.38,-2.44],[.43,-2.43],[.48,-2.43],[.53,-2.43],[.58,-2.43],[.63,-2.43],[.68,-2.42],[.73,-2.42],[.4,-2.38],[.45,-2.37],[.5,-2.37],[.55,-2.37],[.6,-2.37],[.65,-2.37],[.44,-2.31],[.5,-2.31],[.55,-2.31],[.6,-2.31],[.64,-2.31],[.49,-2.25],[.54,-2.24],[.58,-2.23],[.63,-2.24],[.47,-2.2],[.53,-2.17],[.56,-2.12],[.6,-2.19],[.5,-2.13],
[1,-.64],[1.05,-.57],[1.16,-.5],[1.23,-.58],[1.29,-.61],[1.53,-.47],[1.66,-.77],[1.75,-.57],[1.67,-.5],[1.67,-.39],[1.09,-.39],[1.11,-.32],[1.02,-.24],[1.04,-.17],[1.12,-.24],[1.12,-.15],[1.18,-.21],[1.24,-.36],[1.28,-.39],[1.31,-.43],[1.37,-.47],[1.4,-.39],[1.45,-.36],[1.42,-.24],[1.34,-.26],[1.24,-.15],[1.49,-.24],[1.54,-.34],[1.59,-.32],[1.64,-.28],[1.63,-.19],[1.04,-.02],[1.07,-.04],[1.16,.01],[1.1,.09],[1.12,.16],[1.23,.15],[1.26,.14],[1.33,.11],[1.29,.17],[1.41,.24],[1.43,.3],[1.43,.4],[1.43,.5],[1.48,.45],[1.51,.37],[1.55,.35],[1.56,.24],[1.48,.26],[1.67,.4],[1.65,.45],[1.67,.53],[1.77,.41],[1.84,.47],[1.84,.51],[1.87,.34],[2.01,.43],[2.01,.47],[2.08,.48],[2.13,.47],[2.22,.46],[2.21,.56],[2.31,.43],[2.37,.44],[2.48,.46],[2.42,.41],[2.57,.37],[2.68,.42],[2.66,.3],[2.76,.29],[2.84,.31],[1.75,.34],[2.2,.37],[2.08,.37],
[1.32,-.08],[1.36,-.06],[1.4,-.1],[1.44,-.06],[1.38,0],[1.42,.01],[1.46,-.02],[1.5,.02],[1.34,.05],[1.39,.06],[1.44,.07],[1.35,-.14],[1.4,-.16],[1.45,-.14],[1.5,-.1],
[1.72,-.11],[1.76,-.09],[1.8,-.12],[1.85,-.1],[1.9,-.09],[1.58,-.04],[1.64,-.05],[1.7,-.03],[1.76,-.05],[1.82,-.03],[1.88,-.05],[1.94,-.04],[2,-.02],[1.56,.02],[1.62,.03],[1.68,.01],[1.74,.03],[1.8,.02],[1.86,.03],[1.92,.01],[1.98,.03],[2.04,.02],[2.1,.04],[1.58,.08],[1.64,.09],[1.7,.07],[1.76,.09],[1.82,.08],[1.88,.07],[1.94,.09],[2,.08],[2.06,.09],[2.12,.07],[2.18,.09],[1.56,.14],[1.62,.13],[1.68,.15],[1.74,.14],[1.8,.13],[1.86,.15],[1.92,.14],[1.98,.13],[2.04,.15],[2.1,.14],[2.16,.13],[2.22,.15],[2.28,.14],[1.6,.2],[1.66,.19],[1.72,.21],[1.78,.2],[1.84,.19],[1.9,.21],[1.96,.2],[2.02,.19],[2.08,.21],[2.14,.2],[2.2,.19],[2.26,.21],[2.32,.2],[2.4,.21],[1.64,.26],[1.7,.27],[1.76,.25],[1.82,.27],[1.88,.26],[1.94,.25],[2,.27],[2.06,.26],[2.12,.25],[2.18,.27],[2.24,.26],[2.3,.27],[2.38,.25],[2.46,.27],[2.54,.26],[2.6,.26],[2.66,.24],[2.5,.31],[2.44,.33],[2.36,.33],[2.28,.33]];

var core40AP = [[.42,-2.72],[.47,-2.7],[.52,-2.7],[.57,-2.69],[.62,-2.69],[.43,-2.64],[.48,-2.64],[.53,-2.64],[.58,-2.63],[.63,-2.63],[.68,-2.62],[.39,-2.58],[.44,-2.58],[.49,-2.58],[.54,-2.58],[.59,-2.57],[.64,-2.57],[.39,-2.52],[.44,-2.52],[.49,-2.52],[.54,-2.52],[.59,-2.51],[.64,-2.51],[.69,-2.5],[.4,-2.46],[.45,-2.46],[.5,-2.46],[.55,-2.46],[.6,-2.45],[.65,-2.45],[.43,-2.4],[.48,-2.4],[.53,-2.4],[.58,-2.4],[.63,-2.4],[.47,-2.34],[.52,-2.34],[.57,-2.34],[.62,-2.34],
[1.6,-.13],[1.66,-.14],[1.55,-.1],[1.62,-.08],[1.68,-.08],[1.74,-.07],[1.61,0],[1.67,-.01],[1.73,0],[1.79,-.01],[1.85,0],[1.91,-.02],[1.97,0],[2.03,-.01],[1.61,.06],[1.67,.05],[1.73,.06],[1.79,.05],[1.85,.06],[1.91,.05],[1.97,.06],[2.03,.05],[2.09,.06],[2.15,.05],[1.59,.11],[1.65,.11],[1.71,.12],[1.77,.11],[1.83,.11],[1.89,.11],[1.95,.11],[2.01,.12],[2.07,.11],[2.13,.11],[2.19,.12],[2.25,.11],[1.63,.17],[1.69,.17],[1.75,.17],[1.81,.17],[1.87,.17],[1.93,.17],[1.99,.16],[2.05,.17],[2.11,.17],[2.17,.17],[2.23,.18],[2.29,.17],[1.67,.23],[1.73,.23],[1.79,.23],[1.85,.23],[1.91,.23],[1.97,.23],[2.03,.23],[2.09,.23],[2.15,.23],[2.21,.23],[2.27,.24],[2.33,.24],[1.38,.12],[1.46,.14],[1.5,.09],[1.52,.18],[1.28,.06],[1.2,.06],[1.36,-.2],[1.2,-.08],[1.27,-.02],[1.14,-.1]];

var excl40AP = [[.48,-2.95],[.71,-2.91],[.82,-2.64],[.41,-2.72],[.44,-2.77],[.49,-2.79],[.5,-2.72],[.56,-2.65],[.56,-2.59],[.6,-2.66],[.66,-2.67],[.68,-2.62],[.72,-2.6],[.6,-2.54],[.57,-2.48],[.52,-2.49],[.52,-2.41],[.58,-2.37],[.71,-2.44],[.75,-2.14],[.51,-2.14],
[1.71,-.49],[1.82,-.55],[2.1,-.55],[1.97,-.46],[1.92,-.42],[2.03,-.4],[2.11,-.42],[1.75,-.35],[1.92,-.35],[1.95,-.3],[1.9,-.29],[1.75,-.24],[1.85,-.2],[2.05,-.24],[2.15,-.31],[2.14,-.26],[2.24,-.3],[2.37,-.24],[2.15,-.19],[1.93,-.08],[1.99,-.09],[2.08,-.06],[2.13,-.06],[2.08,.02],[2.11,.06],[2.2,-.02],[2.24,.04],[2.31,.04],[2.17,.11],[2.28,.13],[2.36,.17],[2.39,.24],[2.48,.11],[2.53,.13],[2.61,.21],[2.69,.19],[2.77,.19],[2.86,.19],[2.92,.19],[2.95,.19],[2.6,.28],[2.48,-.19],[2.13,.13],[2.31,.21],
[2.05,.02],[2.1,-.02],[2.14,.01],[2.17,.04],[2.2,.07],[2.23,.08],[2.27,.07],[2.32,.1],[2.35,.11],[2.39,.13],[2.43,.16],[2.46,.18],[2.5,.17],[2.54,.19],[2.57,.17],[2.63,.17],[2.66,.2],[2.72,.22],[2.18,.16],[2.25,.17],[2.12,.1],[2.05,.08],[2.42,.1],[2.55,.24]];

var held40AP = [[2.21,-.31],[2.5,-.32],[2.62,-.33],[2.62,-.23],[2.46,-.24],[2.53,-.14],[2.86,-.23],[2.09,-.16],[2.15,-.12],[2.24,-.11],[2.28,-.17],[2.33,-.17],[2.37,-.19],[2.39,-.09],[2.68,-.11],[2.73,-.14],[2.76,-.11],[2.68,-.06],[2.31,-.06],[2.43,-.02],[2.56,-.02],[2.61,.01],[2.72,0],[2.88,0],[2.97,.02],[3,.06],[2.22,.05],[2.28,.02],[2.33,0],[2.37,.06],[2.4,.09],[2.47,.13],[2.57,.04],[2.66,.11],[2.75,.13],[2.8,.12],[2.82,.19],[2.7,.25],[2.93,.12],[2.58,.11]];

var panelTitles = ["1AP", "3AP", "10AP", "40AP"];
var trainSets = [train1AP.concat(core1AP), train3AP.concat(core3AP), train10AP.concat(core10AP), train40AP.concat(core40AP)];
var exclSets = [excl1AP, excl3AP, excl10AP, excl40AP];
var heldSets = [held1AP, held3AP, held10AP, held40AP];

var xMajor = [10, 100, 1000];
var yMajor = [1e-3, 1e-2, 1e-1, 1];
var xDomain = [Math.pow(10, 0.091), Math.pow(10, 3.07)];
var yDomain = [Math.pow(10, -3.297), Math.pow(10, 0.665)];

var legendLabels = [["Train Set", "(Low fitness)"], ["Excluded"], ["Held-out Test Set", "(High fitness)"]];
var colors = ["#4c72b0", "#333333", "#dd8452"];

// GLOBALS

var width = 899;
var height = 851;
var panelWidth = 361;
var panelHeight = 307;
var panelX = [123, 522];
var panelY = [116, 475];

var svg = d3.select("svg")
    .attr("width", width)
    .attr("height", height)
    .style("display", "block");

// SCALES

var xScale = d3.scaleLog().domain(xDomain).range([0, panelWidth]);
var yScale = d3.scaleLog().domain(yDomain).range([0, panelHeight]);

// minor log ticks, 2..9 of each decade that falls inside the domain
function minorTicks(domain) {
  var out = [];
  for (var e = -4; e < 4; e++) {
    for (var m = 2; m < 10; m++) {
      var v = m * Math.pow(10, e);
      if (v >= domain[0] && v <= domain[1]) out.push(v);
    }
  }
  return out;
}

function powerLabel(sel) {
  sel.each(function(d) {
    var t = d3.select(this);
    var e = Math.round(Math.log10(d));
    t.text("10");
    t.append("tspan")
      .attr("dy", "-0.5em")
      .style("font-size", "18px")
      .text(String(e).replace("-", "\u2212"));
  });
}

// PANELS

panelTitles.forEach(function(title, i) {
  var col = i % 2;
  var row = Math.floor(i / 2);
  var g = svg.append("g")
      .attr("transform", `translate(${panelX[col]},${panelY[row]})`);

  // minor ticks
  g.append("g")
      .attr("class", "minor")
      .attr("transform", `translate(0,${panelHeight})`)
      .call(d3.axisBottom(xScale).tickValues(minorTicks(xDomain)).tickSize(4).tickFormat(""))
      .select(".domain").remove();
  g.append("g")
      .attr("class", "minor")
      .call(d3.axisLeft(yScale).tickValues(minorTicks(yDomain)).tickSize(4).tickFormat(""))
      .select(".domain").remove();

  // major ticks and spines
  var xAxis = g.append("g")
      .attr("class", "major")
      .attr("transform", `translate(0,${panelHeight})`)
      .call(d3.axisBottom(xScale).tickValues(xMajor).tickSize(7).tickSizeOuter(0).tickPadding(6));
  var yAxis = g.append("g")
      .attr("class", "major")
      .call(d3.axisLeft(yScale).tickValues(yMajor).tickSize(7).tickSizeOuter(0).tickPadding(2));

  xAxis.selectAll("text").style("font-size", "25.5px");
  yAxis.selectAll("text").style("font-size", "25.5px");
  if (row == 1) xAxis.selectAll("text").call(powerLabel);
  else xAxis.selectAll("text").remove();
  if (col == 0) yAxis.selectAll("text").call(powerLabel);
  else yAxis.selectAll("text").remove();

  // points: train first, then excluded, held-out on top
  [trainSets[i], exclSets[i], heldSets[i]].forEach(function(points, s) {
    g.append("g").selectAll("circle")
        .data(points)
        .enter()
        .append("circle")
        .attr("cx", function(d) { return xScale(Math.pow(10, d[0])); })
        .attr("cy", function(d) { return yScale(Math.pow(10, d[1])); })
        .attr("r", 4.4)
        .attr("fill", colors[s])
        .attr("opacity", 0.7);
  });

  g.append("text")
      .attr("x", panelWidth / 2)
      .attr("y", -11)
      .attr("text-anchor", "middle")
      .style("font-size", "20.5px")
      .text(title);

  if (col == 0) {
    g.append("text")
        .attr("class", "math")
        .attr("transform", `translate(-86,${panelHeight / 2}) rotate(-90)`)
        .attr("text-anchor", "middle")
        .style("font-size", "31.5px")
        .style("letter-spacing", "1.5px")
        .text("Decay");
  }
  if (row == 1) {
    g.append("text")
        .attr("class", "math")
        .attr("x", panelWidth / 2)
        .attr("y", panelHeight + 64)
        .attr("text-anchor", "middle")
        .style("font-size", "31.5px")
        .text("d\u2032");
  }
});

// LEGEND

var legendDotX = [72, 360, 599];
var legendTextX = [118, 405, 646];

legendLabels.forEach(function(lines, i) {
  svg.append("circle")
      .attr("cx", legendDotX[i])
      .attr("cy", 40)
      .attr("r", 4.5)
      .attr("fill", colors[i])
      .attr("opacity", 0.9);
  lines.forEach(function(line, j) {
    svg.append("text")
        .attr("x", legendTextX[i])
        .attr("y", lines.length == 1 ? 49 : 33 + j * 29)
        .style("font-size", "25.6px")
        .text(line);
  });
});

</script>
